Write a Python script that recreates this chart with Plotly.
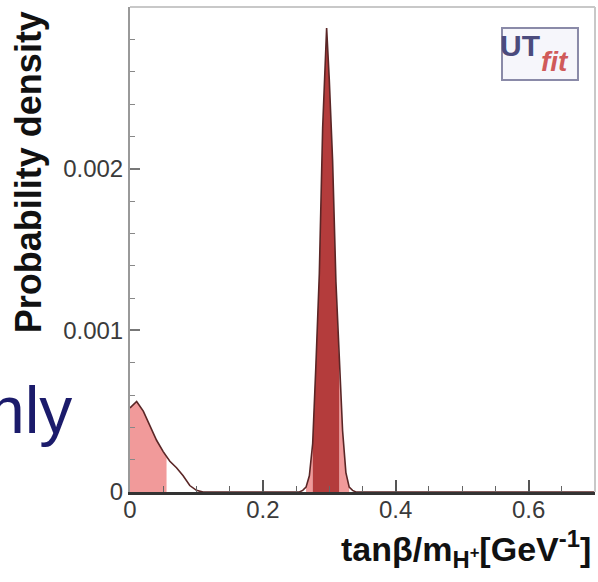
import numpy as np
import plotly.graph_objects as go

# ---- data ----
x_low = [0.0, 0.01, 0.02, 0.03, 0.04, 0.05, 0.055, 0.06, 0.07, 0.08, 0.09, 0.10, 0.11]
y_low = [0.00052, 0.00056, 0.00050, 0.00041, 0.00032, 0.00025, 0.00022, 0.00019,
         0.00015, 0.00010, 0.00004, 0.00001, 0.0]
x_peak = [0.255, 0.260, 0.265, 0.270, 0.275, 0.280, 0.285, 0.290, 0.296, 0.300,
          0.305, 0.310, 0.315, 0.320, 0.325, 0.330, 0.335, 0.340, 0.70]
y_peak = [0.0, 0.00001, 0.00003, 0.00010, 0.00030, 0.00080, 0.00135, 0.00225, 0.00287,
          0.00255, 0.00205, 0.00130, 0.00080, 0.00038, 0.00012, 0.00003, 0.00001, 0.0, 0.0]

# probability regions (95% light, 68% dark)
regions_95 = [(0.0, 0.055), (0.265, 0.275), (0.315, 0.330)]
regions_68 = [(0.275, 0.315)]

x_ticks = [0, 0.2, 0.4, 0.6]
x_ticklabels = ["0", "0.2", "0.4", "0.6"]
y_ticks = [0, 0.001, 0.002]
y_ticklabels = ["0", "0.001", "0.002"]

x_all = np.array(x_low + x_peak)
y_all = np.array(y_low + y_peak)

FILL_95 = "#f19a9a"
FILL_68 = "#b43c3c"
LINE = "#5a2626"

fig = go.Figure()

for regs, col in [(regions_95, FILL_95), (regions_68, FILL_68)]:
    for a, b in regs:
        m = (x_all >= a - 1e-9) & (x_all <= b + 1e-9)
        fig.add_trace(go.Scatter(x=x_all[m], y=y_all[m], mode="lines", fill="tozeroy",
                                 fillcolor=col, line=dict(width=0, color=col),
                                 hoverinfo="skip", showlegend=False))

fig.add_trace(go.Scatter(x=x_all, y=y_all, mode="lines",
                         line=dict(color=LINE, width=1.6), showlegend=False))

tickfont = dict(family="Liberation Sans, Arial", size=24, color="#3a3a3a")

fig.update_layout(
    width=598, height=582,
    margin=dict(l=130, r=3, t=7, b=90),
    paper_bgcolor="white", plot_bgcolor="white",
    showlegend=False,
    xaxis=dict(range=[0, 0.7], tickvals=x_ticks, ticktext=x_ticklabels,
               ticks="inside", ticklen=12, tickwidth=1.5, tickcolor="#555",
               minor=dict(dtick=0.05, tick0=0, ticks="inside", ticklen=6, tickcolor="#666", tickwidth=1.2),
               showline=True, linecolor="#333", linewidth=2.5, ticklabelstandoff=-6,
               showgrid=False, zeroline=False, tickfont=tickfont),
    yaxis=dict(range=[0, 0.003], tickvals=y_ticks, ticktext=y_ticklabels,
               ticks="inside", ticklen=10, tickwidth=1.5, tickcolor="#777",
               minor=dict(dtick=0.0002, tick0=0, ticks="inside", ticklen=5, tickcolor="#888", tickwidth=1.2),
               showline=True, linecolor="#999", linewidth=2,
               showgrid=False, zeroline=False, tickfont=tickfont),
)

# top and right frame lines
fig.add_shape(type="line", xref="paper", yref="paper", x0=0, x1=1, y0=1, y1=1,
              line=dict(color="#c8c8c8", width=2))
fig.add_shape(type="line", xref="paper", yref="paper", x0=1, x1=1, y0=0, y1=1,
              line=dict(color="#c8c8c8", width=2))

# UTfit logo box
fig.add_shape(type="rect", xref="paper", yref="paper", x0=0.80, x1=0.9634, y0=0.8495, y1=0.9567,
              line=dict(color="#8a8aa8", width=2), fillcolor="#f6f6fb")
fig.add_annotation(xref="paper", yref="paper", x=0.885, y=0.958, text="<b>UT</b>", showarrow=False,
                   font=dict(family="Liberation Sans, Arial", size=30, color="#4b4b7d"))
fig.add_annotation(xref="paper", yref="paper", x=0.948, y=0.9247, text="<b><i>fit</i></b>", showarrow=False,
                   font=dict(family="Liberation Sans, Arial", size=28, color="#d05a5a"))

# axis titles
fig.add_annotation(xref="paper", yref="paper", x=-0.265, y=0.66, text="<b>Probability density</b>",
                   textangle=-90, showarrow=False,
                   font=dict(family="Liberation Sans, Arial", size=36, color="#111"))
fig.add_annotation(xref="paper", yref="paper", x=0.9957, y=-0.1705, xanchor="right",
                   text="<b>tanβ/m<sub>H<sup>+</sup></sub>[GeV<sup>-1</sup>]</b>",
                   showarrow=False,
                   font=dict(family="Liberation Sans, Arial", size=34, color="#111"))

# slide text fragment
fig.add_annotation(xref="paper", yref="paper", x=-0.1204, y=0.0887, xanchor="right",
                   text="nly", showarrow=False,
                   font=dict(family="Liberation Sans, Arial", size=66, color="#1b1b6b"))

fig.write_html("out.html")
